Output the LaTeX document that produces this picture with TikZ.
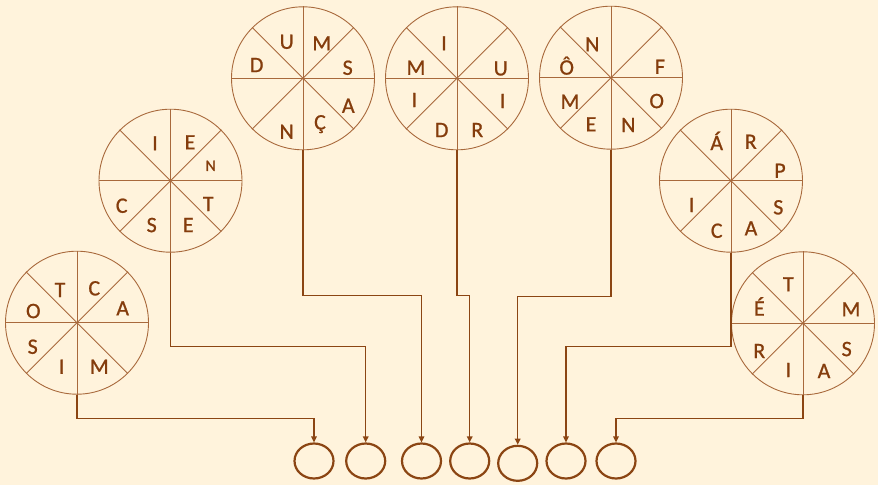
\documentclass[tikz,border=0pt]{standalone}
\usepackage{fontspec}
\setmainfont{Carlito}
\newfontfamily\letfont[FakeBold=0.8]{Carlito}
\usetikzlibrary{arrows.meta,shapes.geometric}
\definecolor{bg}{HTML}{FFF3DC}
\definecolor{txt}{HTML}{843C0C}
\definecolor{ring}{HTML}{A8693C}
\definecolor{arr}{HTML}{8B4513}
\begin{document}
\begin{tikzpicture}[x=1pt,y=-1pt,
  wheel/.style={circle,draw=ring,line width=0.9pt,minimum size=143pt,inner sep=0pt},
  spoke/.style={draw=ring,line width=0.9pt},
  let/.style={font=\letfont\fontsize{22}{24}\selectfont,text=txt,inner sep=0pt,text height=14.2pt,text depth=0pt},
  smalllet/.style={let,font=\letfont\fontsize{16}{18}\selectfont,text height=10.5pt},
  slot/.style={ellipse,draw=arr,line width=2.2pt,minimum width=39pt,minimum height=35pt,inner sep=0pt},
  conn/.style={draw=arr,line width=1.5pt,-{Triangle[length=6pt,width=5.5pt]}}
]
\fill[bg] (0,0) rectangle (878,485);
\useasboundingbox (0,0) rectangle (878,485);

% wheels
\node[wheel] (c1) at (77,322.7) {};
\node[wheel] (c2) at (170.5,180.7) {};
\node[wheel] (c3) at (303,78.3) {};
\node[wheel] (c4) at (457,78.3) {};
\node[wheel] (c5) at (611,77.7) {};
\node[wheel] (c6) at (731,180.7) {};
\node[wheel] (c7) at (803,323.3) {};
\foreach \w in {c1,c2,c3,c4,c5,c6,c7}{
  \draw[spoke] (\w.0) -- (\w.180);
  \draw[spoke] (\w.45) -- (\w.225);
  \draw[spoke] (\w.90) -- (\w.270);
  \draw[spoke] (\w.135) -- (\w.315);
}

% letters wheel 1
\node[let] (a1) at (60,290) {T};
\node[let] (a2) at (94.3,288.3) {C};
\node[let] (a3) at (122.7,308.3) {A};
\node[let] (a4) at (33.3,311) {O};
\node[let] (a5) at (32.7,346.7) {S};
\node[let] (a6) at (61.7,366.7) {I};
\node[let] (a7) at (99.3,366.7) {M};
% wheel 2
\node[let] (b1) at (155,143.3) {I};
\node[let] (b2) at (190,142.3) {E};
\node[smalllet] (b3) at (210.7,165.7) {N};
\node[let] (b4) at (208.3,204) {T};
\node[let] (b5) at (188.3,225) {E};
\node[let] (b6) at (151.7,225) {S};
\node[let] (b7) at (121.7,205.7) {C};
% wheel 3
\node[let] (d1) at (286.7,41.7) {U};
\node[let] (d2) at (321.7,43.3) {M};
\node[let] (d3) at (347.7,67.7) {S};
\node[let] (d4) at (348.3,105.7) {A};
\node[let] (d5) at (320,122.3) {Ç};
\node[let] (d6) at (286.7,131.7) {N};
\node[let] (d7) at (256.7,65) {D};
% wheel 4
\node[let] (f1) at (444,43.3) {I};
\node[let] (f2) at (416,67.7) {M};
\node[let] (f3) at (500.7,68.3) {U};
\node[let] (f4) at (502.7,101) {I};
\node[let] (f5) at (414.3,100) {I};
\node[let] (f6) at (441.7,130) {D};
\node[let] (f7) at (477.3,130) {R};
% wheel 5
\node[let] (g1) at (592.3,44.3) {N};
\node[let] (g2) at (566.7,67.5) {Ô};
\node[let] (g3) at (660,66.7) {F};
\node[let] (g4) at (656.7,101) {O};
\node[let] (g5) at (628.3,125) {N};
\node[let] (g6) at (591,124.3) {E};
\node[let] (g7) at (570,101.7) {M};
% wheel 6
\node[let] (h1) at (716.7,143) {Á};
\node[let] (h2) at (750.7,141.7) {R};
\node[let] (h3) at (780,170.7) {P};
\node[let] (h4) at (778.3,207.3) {S};
\node[let] (h5) at (751,228.3) {A};
\node[let] (h6) at (716.7,230.7) {C};
\node[let] (h7) at (691.7,205) {I};
% wheel 7
\node[let] (k1) at (788.3,284.3) {T};
\node[let] (k2) at (759.3,308.5) {É};
\node[let] (k3) at (851,309.3) {M};
\node[let] (k4) at (846.7,349) {S};
\node[let] (k5) at (824,371) {A};
\node[let] (k6) at (788.3,370) {I};
\node[let] (k7) at (759.3,351) {R};

% slots
\node[slot] (e1) at (314,461) {};
\node[slot] (e2) at (365.7,461) {};
\node[slot] (e3) at (421.5,461) {};
\node[slot] (e4) at (469.7,461) {};
\node[slot] (e5) at (517.7,463.3) {};
\node[slot] (e6) at (566,461) {};
\node[slot] (e7) at (616,461) {};

% elbow levels
\coordinate (y1) at (0,418.3);
\coordinate (y2) at (0,346.7);
\coordinate (y3) at (0,295.7);
\coordinate (y5) at (0,296.7);

\draw[conn] (c1.south) |- (y1 -| e1.north) -- (e1.north);
\draw[conn] (c2.south) |- (y2 -| e2.north) -- (e2.north);
\draw[conn] (c3.south) |- (y3 -| e3.north) -- (e3.north);
\draw[conn] (c4.south) |- (y3 -| e4.north) -- (e4.north);
\draw[conn] (c5.south) |- (y5 -| e5.north) -- (e5.north);
\draw[conn] (c6.south) |- (y2 -| e6.north) -- (e6.north);
\draw[conn] (c7.south) |- (y1 -| e7.north) -- (e7.north);
\end{tikzpicture}
\end{document}
